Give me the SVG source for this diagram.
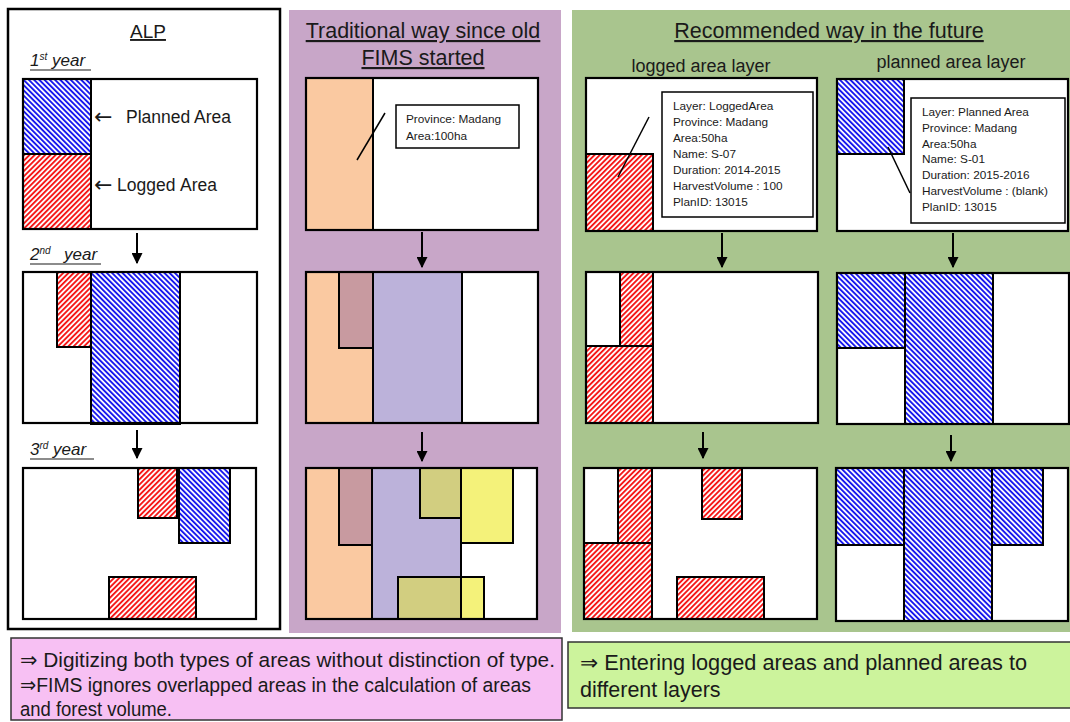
<svg xmlns="http://www.w3.org/2000/svg" width="1070" height="722" viewBox="0 0 1070 722">
  <defs>
    <!-- diagonal hatches: red "/" for logged areas, blue "\" for planned areas -->
    <pattern id="redHatch" width="3.7" height="3.7" patternUnits="userSpaceOnUse" patternTransform="rotate(45)">
      <rect width="3.7" height="3.7" fill="#ffffff"/>
      <rect width="1.9" height="3.7" fill="#f51818"/>
    </pattern>
    <pattern id="blueHatch" width="3.7" height="3.7" patternUnits="userSpaceOnUse" patternTransform="rotate(-45)">
      <rect width="3.7" height="3.7" fill="#ffffff"/>
      <rect width="1.9" height="3.7" fill="#1818ee"/>
    </pattern>
    <marker id="arrowHead" viewBox="0 0 10 10" refX="9" refY="5" markerWidth="5.5" markerHeight="5.5" orient="auto" markerUnits="strokeWidth">
      <path d="M0,0 L10,5 L0,10 Z" fill="#000"/>
    </marker>
  </defs>
  <style>
    .frame { fill: none; stroke: #000; stroke-width: 2.2; }
    .bg { fill: #ffffff; }
    .red { fill: url(#redHatch); stroke: #000; stroke-width: 2; }
    .blue { fill: url(#blueHatch); stroke: #000; stroke-width: 2; }
    .orange { fill: #fac9a1; stroke: #000; stroke-width: 2; }
    .brown { fill: #c89aa0; stroke: #000; stroke-width: 2; }
    .lav { fill: #bcb2da; }
    .yellow { fill: #f4f27a; }
    .olive { fill: #d2ce80; }
    .outline { fill: none; stroke: #000; stroke-width: 2; }
    .info { fill: #ffffff; stroke: #000; stroke-width: 1.5; }
    .leader { stroke: #000; stroke-width: 1.5; fill: none; }
    .arrow { stroke: #000; stroke-width: 2; fill: none; marker-end: url(#arrowHead); }
    text { font-family: "Liberation Sans", Arial, "DejaVu Sans", sans-serif; fill: #1a1a1a; }
    .title { font-size: 21.5px; text-anchor: middle; text-decoration: underline; }
    .year { font-size: 17px; font-style: italic; }
    .sup { font-size: 10px; }
    .lbl { font-size: 17.5px; }
    .pointer { font-family: "DejaVu Sans", sans-serif; font-size: 22px; }
    .layer { font-size: 18px; text-anchor: middle; }
    .small { font-size: 11.8px; }
    .note { font-size: 20.5px; }
    .noteG { font-size: 21.5px; }
    .ul { stroke: #1a1a1a; stroke-width: 1.2; }
  </style>

  <rect width="1070" height="722" fill="#ffffff"/>

  <!-- ===== ALP column ===== -->
  <g id="alp-panel">
    <rect x="8" y="9" width="272" height="620" fill="#ffffff" stroke="#000" stroke-width="2.5"/>
    <text class="title" x="148" y="38" style="font-size:19px">ALP</text>
  </g>

  <g id="alp-year1">
    <text class="year" x="30" y="66">1<tspan class="sup" dy="-6">st</tspan><tspan dy="6"> year</tspan></text>
    <line class="ul" x1="30" y1="70" x2="91" y2="70"/>
    <rect class="bg" x="23" y="79" width="234" height="150"/>
    <rect class="blue" x="23" y="79" width="68" height="75"/>
    <rect class="red" x="23" y="154" width="68" height="75"/>
    <rect class="frame" x="23" y="79" width="234" height="150"/>
    <text class="pointer" x="94" y="124">←</text>
    <text class="lbl" x="126" y="123">Planned Area</text>
    <text class="pointer" x="94" y="192">←</text>
    <text class="lbl" y="191"><tspan x="117">Logged</tspan><tspan x="180">Area</tspan></text>
  </g>

  <g id="alp-year2">
    <text class="year" x="30" y="260">2<tspan class="sup" dy="-6">nd</tspan><tspan dy="6" x="64">year</tspan></text>
    <line class="ul" x1="30" y1="264" x2="101" y2="264"/>
    <rect class="bg" x="23" y="272" width="234" height="151"/>
    <rect class="red" x="57" y="272" width="34" height="75"/>
    <rect class="blue" x="91" y="272" width="89" height="152"/>
    <rect class="frame" x="23" y="272" width="234" height="151"/>
  </g>

  <g id="alp-year3">
    <text class="year" x="30" y="455">3<tspan class="sup" dy="-6">rd</tspan><tspan dy="6"> year</tspan></text>
    <line class="ul" x1="30" y1="459" x2="94" y2="459"/>
    <rect class="bg" x="23" y="468" width="233" height="151"/>
    <rect class="red" x="138" y="468" width="39" height="50"/>
    <rect class="blue" x="179" y="468" width="51" height="75"/>
    <rect class="red" x="109" y="577" width="87" height="42"/>
    <rect class="frame" x="23" y="468" width="233" height="151"/>
  </g>

  <!-- ===== single-layer (old FIMS) column ===== -->
  <g id="fims-panel">
    <rect x="289" y="10" width="272" height="623" fill="#c8a6c8"/>
    <text class="title" x="423" y="38">Traditional way since old</text>
    <text class="title" x="423" y="65">FIMS started</text>
  </g>

  <g id="fims-step1">
    <rect class="bg" x="306" y="78" width="232" height="152"/>
    <rect class="orange" x="306" y="78" width="67" height="152"/>
    <rect class="frame" x="306" y="78" width="232" height="152"/>
    <rect class="info" x="396" y="105" width="123" height="43"/>
    <text class="small" x="406" y="123">Province: Madang</text>
    <text class="small" x="406" y="140">Area:100ha</text>
  </g>

  <g id="fims-step2">
    <rect class="bg" x="306" y="272" width="232" height="151"/>
    <rect class="orange" x="306" y="272" width="67" height="151"/>
    <rect class="brown" x="339" y="272" width="34" height="76"/>
    <rect class="lav" x="373" y="272" width="89" height="151"/>
    <rect class="outline" x="373" y="272" width="89" height="151"/>
    <rect class="frame" x="306" y="272" width="232" height="151"/>
  </g>

  <g id="fims-step3">
    <rect class="bg" x="306" y="468" width="231" height="151"/>
    <rect class="orange" x="306" y="468" width="66" height="151"/>
    <rect class="brown" x="339" y="468" width="33" height="77"/>
    <rect class="lav" x="372" y="468" width="89" height="151"/>
    <polygon class="yellow" points="420,468 513,468 513,543 461,543 461,518 420,518"/>
    <rect class="olive" x="420" y="468" width="41" height="50"/>
    <rect class="yellow" x="398" y="577" width="86" height="42"/>
    <rect class="olive" x="398" y="577" width="63" height="42"/>
    <rect class="outline" x="372" y="468" width="89" height="151"/>
    <polygon class="outline" points="420,468 513,468 513,543 461,543 461,518 420,518"/>
    <rect class="outline" x="398" y="577" width="86" height="42"/>
    <rect class="frame" x="306" y="468" width="231" height="151"/>
  </g>

  <!-- ===== two-layer (recommended) column ===== -->
  <g id="layers-panel">
    <rect x="572" y="10" width="498" height="622" fill="#a9c58e"/>
    <text class="title" x="829" y="38">Recommended way in the future</text>
    <text class="layer" x="701" y="72">logged area layer</text>
    <text class="layer" x="951" y="68">planned area layer</text>
  </g>

  <g id="logged-step1">
    <rect class="bg" x="586" y="78" width="231" height="153"/>
    <rect class="red" x="586" y="154" width="67" height="77"/>
    <rect class="frame" x="586" y="78" width="231" height="153"/>
    <rect class="info" x="662" y="92" width="151" height="125"/>
    <text class="small" x="673" y="110">Layer: LoggedArea</text>
    <text class="small" x="673" y="126">Province: Madang</text>
    <text class="small" x="673" y="142">Area:50ha</text>
    <text class="small" x="673" y="158">Name: S-07</text>
    <text class="small" x="673" y="174">Duration: 2014-2015</text>
    <text class="small" x="673" y="190">HarvestVolume : 100</text>
    <text class="small" x="673" y="206">PlanID: 13015</text>
  </g>

  <g id="planned-step1">
    <rect class="bg" x="837" y="79" width="231" height="152"/>
    <rect class="blue" x="837" y="79" width="67" height="75"/>
    <rect class="frame" x="837" y="79" width="231" height="152"/>
    <rect class="info" x="911" y="98" width="154" height="125"/>
    <text class="small" x="922" y="116">Layer: Planned Area</text>
    <text class="small" x="922" y="131.8">Province: Madang</text>
    <text class="small" x="922" y="147.6">Area:50ha</text>
    <text class="small" x="922" y="163.4">Name: S-01</text>
    <text class="small" x="922" y="179.2">Duration: 2015-2016</text>
    <text class="small" x="922" y="195">HarvestVolume : (blank)</text>
    <text class="small" x="922" y="210.8">PlanID: 13015</text>
  </g>

  <g id="logged-step2">
    <rect class="bg" x="586" y="272" width="232" height="151"/>
    <rect class="red" x="620" y="272" width="33" height="74"/>
    <rect class="red" x="586" y="346" width="67" height="77"/>
    <rect class="frame" x="586" y="272" width="232" height="151"/>
  </g>

  <g id="planned-step2">
    <rect class="bg" x="837" y="273" width="232" height="151"/>
    <rect class="blue" x="837" y="273" width="68" height="75"/>
    <rect class="blue" x="905" y="273" width="88" height="151"/>
    <rect class="frame" x="837" y="273" width="232" height="151"/>
  </g>

  <g id="logged-step3">
    <rect class="bg" x="584" y="468" width="233" height="151"/>
    <rect class="red" x="618" y="468" width="34" height="75"/>
    <rect class="red" x="584" y="543" width="68" height="76"/>
    <rect class="red" x="702" y="468" width="40" height="51"/>
    <rect class="red" x="677" y="577" width="87" height="42"/>
    <rect class="frame" x="584" y="468" width="233" height="151"/>
  </g>

  <g id="planned-step3">
    <rect class="bg" x="836" y="468" width="232" height="153"/>
    <rect class="blue" x="836" y="468" width="68" height="77"/>
    <rect class="blue" x="904" y="468" width="88" height="153"/>
    <rect class="blue" x="992" y="468" width="51" height="77"/>
    <rect class="frame" x="836" y="468" width="232" height="153"/>
  </g>

  <!-- ===== summary notes ===== -->
  <g id="note-old">
    <rect x="11" y="638" width="551" height="82" fill="#f7c0f3" stroke="#333" stroke-width="1.5"/>
    <text class="note" x="20" y="667" textLength="535" lengthAdjust="spacingAndGlyphs">⇒ Digitizing both types of areas without distinction of type.</text>
    <text class="note" x="20" y="692" textLength="511" lengthAdjust="spacingAndGlyphs">⇒FIMS ignores overlapped areas in the calculation of areas</text>
    <text class="note" x="20" y="716" textLength="152" lengthAdjust="spacingAndGlyphs">and forest volume.</text>
  </g>

  <g id="note-new">
    <rect x="568" y="642" width="505" height="66" fill="#ccf39c" stroke="#333" stroke-width="1.5"/>
    <text class="noteG" x="580" y="670" textLength="447" lengthAdjust="spacingAndGlyphs">⇒ Entering logged areas and planned areas to</text>
    <text class="noteG" x="580" y="697">different layers</text>
  </g>

  <!-- ===== connectors: step arrows and attribute leaders ===== -->
  <g id="connectors">
    <line class="arrow" x1="137" y1="233" x2="137" y2="263"/>
    <line class="arrow" x1="137" y1="430" x2="137" y2="458"/>
    <line class="arrow" x1="422" y1="232" x2="422" y2="267"/>
    <line class="arrow" x1="422" y1="432" x2="422" y2="461"/>
    <line class="arrow" x1="722" y1="233" x2="722" y2="267"/>
    <line class="arrow" x1="953" y1="233" x2="953" y2="267"/>
    <line class="arrow" x1="703" y1="432" x2="703" y2="458"/>
    <line class="arrow" x1="951" y1="435" x2="951" y2="461"/>
    <line class="leader" x1="385" y1="113" x2="357" y2="160"/>
    <line class="leader" x1="649" y1="117" x2="618" y2="177"/>
    <line class="leader" x1="888" y1="147" x2="910" y2="193"/>
  </g>
</svg>
